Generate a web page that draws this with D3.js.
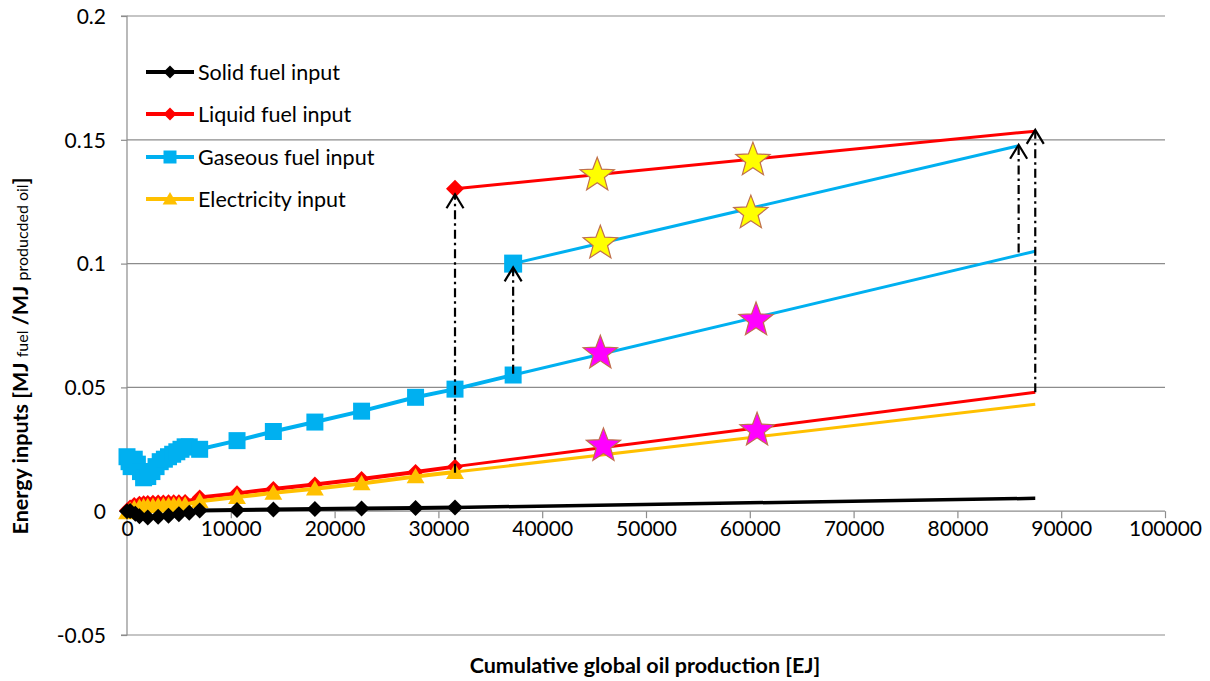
<!DOCTYPE html>
<html><head><meta charset="utf-8">
<script src="https://cdn.jsdelivr.net/npm/d3@7/dist/d3.min.js"></script>
<style>body{margin:0;background:#fff}svg{display:block}text{font-family:Lato,"Open Sans",sans-serif}</style>
</head><body>
<svg id="c" width="1210" height="681"></svg>
<script>
// ---- data ----
const xTicks = [0,10000,20000,30000,40000,50000,60000,70000,80000,90000,100000];
const yTicks = [-0.05,0,0.05,0.1,0.15,0.2];
const yTickLabels = ["-0.05","0","0.05","0.1","0.15","0.2"];

const seriesNames = ["Solid fuel input","Liquid fuel input","Gaseous fuel input","Electricity input"];

const solidX = [0,300,800,1200,2000,3000,4000,5000,6000,7000,10600,14100,18100,22600,27800,31600];
const solidY = [0,0.0001,-0.001,-0.002,-0.0025,-0.0022,-0.0018,-0.0012,-0.0006,0.0003,0.0005,0.0007,0.0009,0.0011,0.0013,0.0015];
const solidExtX = [31600,87500];
const solidExtY = [0.0015,0.0052];

const liquidX = [0,300,700,1200,1600,2000,2500,3000,3500,4000,4500,5000,5600,7000,10600,14100,18100,22600,27800,31600];
const liquidY = [0.0003,0.0015,0.0025,0.003,0.0032,0.0033,0.0034,0.0035,0.0035,0.0036,0.0036,0.0036,0.0037,0.0055,0.0072,0.0090,0.0108,0.0130,0.0158,0.0180];
const liquidExtX = [31600,87500];
const liquidExtY = [0.0180,0.0480];
const liquidHighX = [31600,87500];
const liquidHighY = [0.1302,0.1535];

const gasX = [0,200,400,700,1000,1300,1600,2000,2400,2800,3200,3600,4000,4400,4800,5200,5600,6000,7000,10600,14100,18100,22600,27800,31600,37200];
const gasY = [0.022,0.020,0.018,0.021,0.019,0.016,0.0135,0.014,0.016,0.018,0.020,0.021,0.022,0.023,0.024,0.025,0.026,0.026,0.025,0.0285,0.0322,0.0360,0.0404,0.0460,0.0493,0.0550];
const gasExtX = [37200,87500];
const gasExtY = [0.0550,0.1050];
const gasHighX = [37200,85800];
const gasHighY = [0.1000,0.1475];

const elecX = [0,300,700,1200,1600,2000,2500,3000,3500,4000,4500,5000,5600,7000,10600,14100,18100,22600,27800,31600];
const elecY = [-0.0005,0.0005,0.0012,0.0017,0.0019,0.002,0.0021,0.0022,0.0023,0.0024,0.0025,0.0025,0.0026,0.0040,0.0057,0.0074,0.0091,0.0112,0.0140,0.0158];
const elecExtX = [31600,87500];
const elecExtY = [0.0158,0.0432];

const arrowX = [31600,37200,85900,87500];
const arrowFrom = [0.0155,0.0555,0.1045,0.0480];
const arrowTo = [0.1280,0.0985,0.1480,0.1540];

const starX = [45300,60300,45600,60100,45600,60600,45900,60700];
const starY = [0.1365,0.1426,0.1090,0.1212,0.0646,0.0780,0.0272,0.0335];
const starFill = ["#FFFF00","#FFFF00","#FFFF00","#FFFF00","#FF00FF","#FF00FF","#FF00FF","#FF00FF"];

// ---- drawing ----
const svg = d3.select("#c");
const x = d3.scaleLinear().domain([0,100000]).range([127,1165]);
const y = d3.scaleLinear().domain([-0.05,0.2]).range([635,16]);
const C = {solid:"#000000", liquid:"#FF0000", gas:"#00B0F0", elec:"#FFC000"};
const zip = (a,b)=>a.map((v,i)=>[v,b[i]]);
const line = d3.line().x(d=>x(d[0])).y(d=>y(d[1]));

// gridlines
svg.append("g").selectAll("line").data(yTicks.filter(v=>v!==0)).join("line")
  .attr("x1",x(0)).attr("x2",x(100000)).attr("y1",d=>y(d)).attr("y2",d=>y(d))
  .attr("stroke","#8c8c8c").attr("stroke-width",1.2);

// y axis
const yAxis = d3.axisLeft(y).tickValues(yTicks).tickSize(6).tickFormat((d,i)=>yTickLabels[i]);
const gy = svg.append("g").attr("transform",`translate(${x(0)},0)`).call(yAxis);
gy.select(".domain").attr("stroke","#8c8c8c").attr("stroke-width",1.2).attr("d",`M-6,${y(0.2)}H0V${y(-0.05)}H-6`);
gy.selectAll(".tick line").attr("stroke","#8c8c8c").attr("stroke-width",1.2);
gy.selectAll(".tick text").attr("font-size",21).attr("fill","#000").attr("x",-21).attr("dy","0.35em");

// x axis at y=0
const xAxis = d3.axisBottom(x).tickValues(xTicks).tickSize(7).tickFormat(d3.format("d"));
const gx = svg.append("g").attr("transform",`translate(0,${y(0)})`).call(xAxis);
gx.select(".domain").attr("stroke","#8c8c8c").attr("stroke-width",1.2).attr("d",`M${x(0)},0H${x(100000)}`);
gx.selectAll(".tick line").attr("stroke","#8c8c8c").attr("stroke-width",1.2);
gx.selectAll(".tick text").attr("font-size",21).attr("fill","#000").attr("y",10).attr("dy","0.71em");

// symbols
const diamond = s => `M0,${-s}L${s},0L0,${s}L${-s},0Z`;
const square = s => `M${-s},${-s}H${s}V${s}H${-s}Z`;
const tri = s => `M0,${-s}L${s*1.05},${s*0.8}L${-s*1.05},${s*0.8}Z`;

function series(pts, ext, color, w, sym, size, extW){
  const g = svg.append("g");
  if(ext) g.append("path").attr("d",line(ext)).attr("fill","none").attr("stroke",color).attr("stroke-width",extW);
  g.append("path").attr("d",line(pts)).attr("fill","none").attr("stroke",color).attr("stroke-width",w).attr("stroke-linejoin","round");
  g.selectAll("path.m").data(pts).join("path").attr("class","m")
    .attr("transform",d=>`translate(${x(d[0])},${y(d[1])})`)
    .attr("d",sym(size)).attr("fill",color);
  return g;
}

series(zip(liquidX,liquidY), zip(liquidExtX,liquidExtY), C.liquid, 4, diamond, 8, 3);
series(zip(elecX,elecY), zip(elecExtX,elecExtY), C.elec, 4, tri, 8.5, 3);
series(zip(solidX,solidY), zip(solidExtX,solidExtY), C.solid, 4, diamond, 8, 3.5);
series(zip(gasX,gasY), zip(gasExtX,gasExtY), C.gas, 4, square, 8.5, 3);

// upper segments
svg.append("path").attr("d",line(zip(liquidHighX,liquidHighY))).attr("fill","none").attr("stroke",C.liquid).attr("stroke-width",3);
svg.append("path").attr("transform",`translate(${x(liquidHighX[0])},${y(liquidHighY[0])})`).attr("d",diamond(9)).attr("fill",C.liquid);
svg.append("path").attr("d",line(zip(gasHighX,gasHighY))).attr("fill","none").attr("stroke",C.gas).attr("stroke-width",3);
svg.append("path").attr("transform",`translate(${x(gasHighX[0])},${y(gasHighY[0])})`).attr("d",square(9)).attr("fill",C.gas);

// arrows
const ag = svg.append("g");
arrowX.forEach((ax,i)=>{
  const px = x(ax), y0 = y(arrowFrom[i]), y1 = y(arrowTo[i]);
  ag.append("line").attr("x1",px).attr("x2",px).attr("y1",y0).attr("y2",y1+1)
    .attr("stroke","#000").attr("stroke-width",2.2).attr("stroke-dasharray","9,4,2.5,4");
  ag.append("path").attr("d",`M${px-8.5},${y1+14}L${px},${y1}L${px+8.5},${y1+14}`)
    .attr("fill","none").attr("stroke","#000").attr("stroke-width",2.2);
});

// stars
const starPath = (R,r)=>{let p=[];for(let k=0;k<10;k++){const a=-Math.PI/2+k*Math.PI/5;const rr=k%2?r:R;p.push([rr*Math.cos(a),rr*Math.sin(a)]);}return "M"+p.map(q=>q.join(",")).join("L")+"Z";};
svg.append("g").selectAll("path").data(starX.map((v,i)=>i)).join("path")
  .attr("transform",i=>`translate(${x(starX[i])},${y(starY[i])+2})`)
  .attr("d",starPath(18,7.6)).attr("fill",i=>starFill[i])
  .attr("stroke","#C0704D").attr("stroke-width",1.2);

// legend
const legY = [72,114,157,199];
const legCol = [C.solid,C.liquid,C.gas,C.elec];
const legSym = [diamond(6.5),diamond(6.5),square(6.5),tri(7)];
const lg = svg.append("g");
seriesNames.forEach((n,i)=>{
  lg.append("line").attr("x1",146).attr("x2",194).attr("y1",legY[i]).attr("y2",legY[i]).attr("stroke",legCol[i]).attr("stroke-width",4);
  lg.append("path").attr("transform",`translate(170,${legY[i]})`).attr("d",legSym[i]).attr("fill",legCol[i]);
  lg.append("text").attr("x",198).attr("y",legY[i]).attr("dy","0.36em").attr("font-size",21.5).attr("fill","#000").text(n);
});

// axis titles
svg.append("text").attr("x",645).attr("y",673).attr("text-anchor","middle").attr("font-size",21.5).attr("font-weight","bold").text("Cumulative global oil production [EJ]");
const yt = svg.append("text").attr("transform","translate(28,356) rotate(-90)").attr("text-anchor","middle").attr("font-size",21.5).attr("font-weight","bold");
yt.append("tspan").text("Energy inputs [MJ ");
yt.append("tspan").attr("font-size",16).attr("font-weight","normal").text("fuel");
yt.append("tspan").text(" /MJ ");
yt.append("tspan").attr("font-size",16).attr("font-weight","normal").text("producded oil");
yt.append("tspan").text("]");
</script>
</body></html>
